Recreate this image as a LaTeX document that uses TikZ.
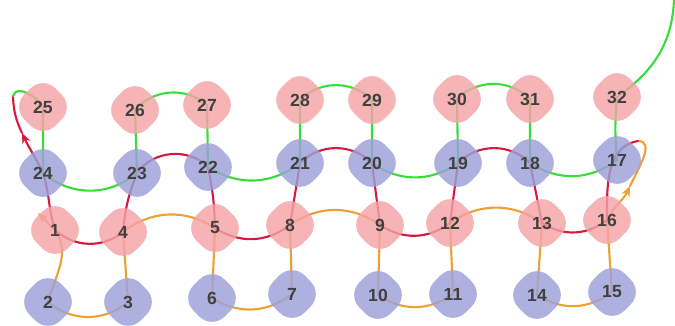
\documentclass[tikz,border=0pt]{standalone}
\usepackage{fontspec}
\setsansfont{Liberation Sans}
\usetikzlibrary{arrows.meta,shapes.geometric,backgrounds}

\definecolor{beadpink}{HTML}{F4A3A6}
\definecolor{beadblue}{HTML}{9CA0D8}
\definecolor{strandgreen}{HTML}{3ADC3A}
\definecolor{strandred}{HTML}{D8183E}
\definecolor{strandorange}{HTML}{EFA035}

\begin{document}
\begin{tikzpicture}[
  x=0.02cm, y=0.02cm,
  font=\sffamily\bfseries\fontsize{10}{12}\selectfont,
  bead/.style = {
    diamond, rounded corners=10pt, minimum width=1.25cm, minimum height=1.25cm,
    inner sep=0pt, text=black!75, fill opacity=0.82, text opacity=1,
  },
  pinkbead/.style = {bead, fill=beadpink},
  bluebead/.style = {bead, fill=beadblue},
  strand/.style = {line width=1.2pt, line cap=round},
  greenstrand/.style = {strand, draw=strandgreen},
  redstrand/.style = {strand, draw=strandred},
  orangestrand/.style = {strand, draw=strandorange},
  arrowend/.style = {-{Stealth[length=6pt,width=5pt]}},
]
  \useasboundingbox (0,0) rectangle (675,325);

  % pink beads
  \node[pinkbead] (b1)  at (55,95)   {1};
  \node[pinkbead] (b4)  at (123,93)  {4};
  \node[pinkbead] (b5)  at (215,97)  {5};
  \node[pinkbead] (b8)  at (290,100) {8};
  \node[pinkbead] (b9)  at (380,100) {9};
  \node[pinkbead] (b12) at (450,102) {12};
  \node[pinkbead] (b13) at (542,102) {13};
  \node[pinkbead] (b16) at (607,105) {16};
  \node[pinkbead] (b25) at (43,218)  {25};
  \node[pinkbead] (b26) at (135,215) {26};
  \node[pinkbead] (b27) at (207,220) {27};
  \node[pinkbead] (b28) at (300,225) {28};
  \node[pinkbead] (b29) at (372,225) {29};
  \node[pinkbead] (b30) at (457,226) {30};
  \node[pinkbead] (b31) at (530,226) {31};
  \node[pinkbead] (b32) at (617,228) {32};

  % blue beads
  \node[bluebead] (b2)  at (48,23)   {2};
  \node[bluebead] (b3)  at (128,23)  {3};
  \node[bluebead] (b6)  at (212,27)  {6};
  \node[bluebead] (b7)  at (292,31)  {7};
  \node[bluebead] (b10) at (378,30)  {10};
  \node[bluebead] (b11) at (453,31)  {11};
  \node[bluebead] (b14) at (537,30)  {14};
  \node[bluebead] (b15) at (612,33)  {15};
  \node[bluebead] (b17) at (617,165) {17};
  \node[bluebead] (b18) at (530,162) {18};
  \node[bluebead] (b19) at (458,162) {19};
  \node[bluebead] (b20) at (372,162) {20};
  \node[bluebead] (b21) at (300,162) {21};
  \node[bluebead] (b22) at (208,158) {22};
  \node[bluebead] (b23) at (137,152) {23};
  \node[bluebead] (b24) at (43,152)  {24};

  % turning points of the strand
  \coordinate (oS) at (38,112);
  \coordinate (oA) at (630,139);
  \coordinate (rR) at (638,184);
  \coordinate (rM) at (22,192);
  \coordinate (gL) at (13,229);
  \coordinate (gE) at (674,326);

  \begin{scope}[on background layer]
    \draw[orangestrand, arrowend] (b1.center) -- (oS);
    \draw[orangestrand] (b1.center) to[out=-55,in=75] (b2.center)
      to[bend right=40] (b3.center) -- (b4.center)
      to[bend left=35] (b5.center) -- (b6.center)
      to[bend right=35] (b7.center) -- (b8.center)
      to[bend left=35] (b9.center) -- (b10.center)
      to[bend right=35] (b11.center) -- (b12.center)
      to[bend left=35] (b13.center) -- (b14.center)
      to[bend right=35] (b15.center) -- (b16.center);
    \draw[orangestrand, arrowend] (b16.center) to[out=65,in=-115] (oA);
    \draw[orangestrand] (oA) to[out=65,in=0] (rR);

    \draw[redstrand] (b1.center) to[bend right=40] (b4.center)
      to[bend left=8] (b23.center) to[bend left=50] (b22.center)
      to[bend left=5] (b5.center) to[bend right=35] (b8.center)
      -- (b21.center) to[bend left=45] (b20.center)
      -- (b9.center) to[bend right=35] (b12.center)
      -- (b19.center) to[bend left=45] (b18.center)
      -- (b13.center) to[bend right=35] (b16.center)
      to[out=90,in=190] (rR);
    \draw[redstrand, arrowend] (b1.center) to[out=108,in=-72] (b24.center)
      to[out=115,in=-65] (rM);
    \draw[redstrand] (rM) to[out=115,in=-88] (gL);

    \draw[greenstrand] (gL) to[out=75,in=120] (b25.center) -- (b24.center)
      to[bend right=40] (b23.center) -- (b26.center)
      to[bend left=45] (b27.center) -- (b22.center)
      to[bend right=35] (b21.center) -- (b28.center)
      to[bend left=45] (b29.center) -- (b20.center)
      to[bend right=35] (b19.center) -- (b30.center)
      to[bend left=45] (b31.center) -- (b18.center)
      to[bend right=35] (b17.center) to[bend left=5] (b32.center)
      to[out=35,in=-92] (gE);
  \end{scope}
\end{tikzpicture}
\end{document}
